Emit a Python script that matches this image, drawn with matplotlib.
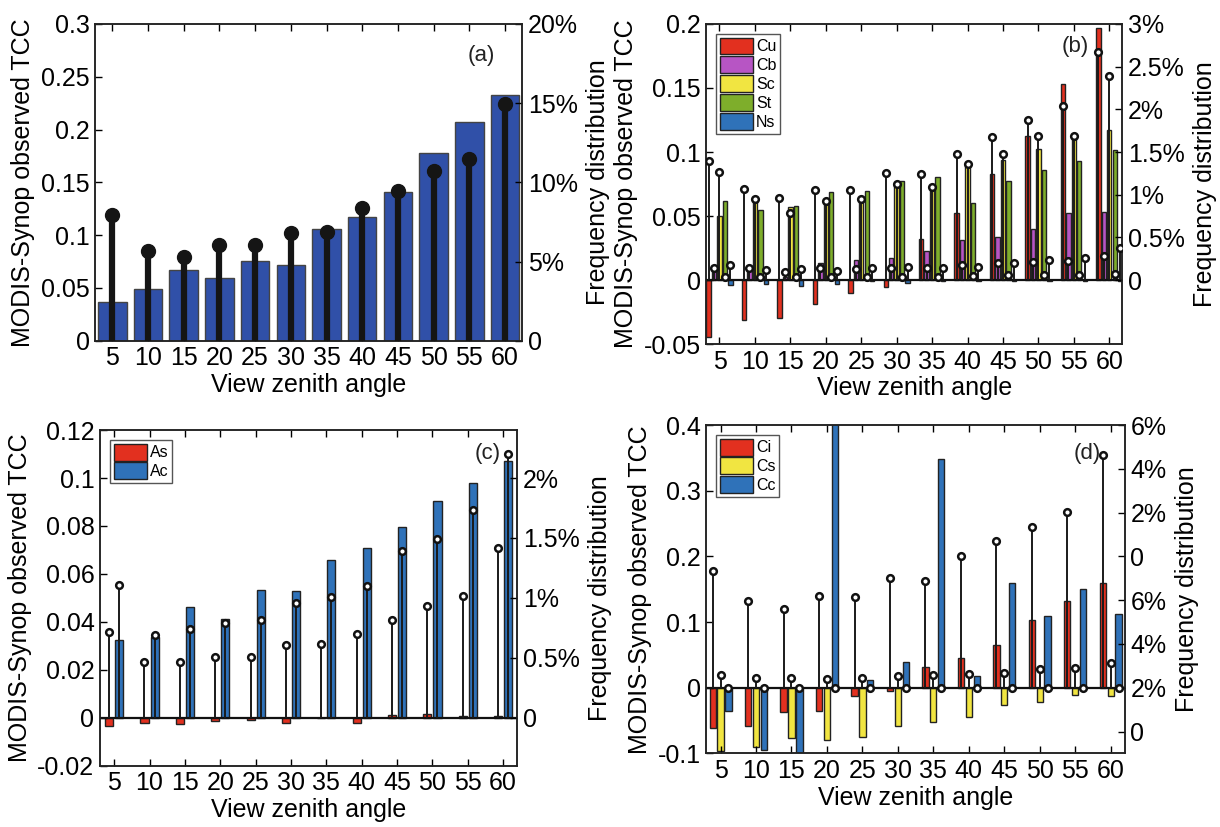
import matplotlib
matplotlib.use("Agg")
import matplotlib.pyplot as plt
import numpy as np

plt.rcParams['font.family'] = ['Liberation Sans', 'DejaVu Sans']

angles = ['5', '10', '15', '20', '25', '30', '35', '40', '45', '50', '55', '60']

# ---- panel (a): all clouds ----
a_tcc = [0.037, 0.049, 0.0666, 0.059, 0.0756, 0.072, 0.106, 0.117, 0.141, 0.1775, 0.207, 0.233]
a_freq = [7.93, 5.68, 5.26, 6.05, 6.05, 6.83, 6.89, 8.41, 9.46, 10.73, 11.48, 14.95]

# ---- panel (b): low clouds ----
b_names = ['Cu', 'Cb', 'Sc', 'St', 'Ns']
b_tcc_Cu = [-0.0446, -0.031, -0.0296, -0.0189, -0.0102, -0.0055, 0.0323, 0.0525, 0.0826, 0.1128, 0.1534, 0.197]
b_tcc_Cb = [0.011, 0.0105, 0.0026, 0.0136, 0.0157, 0.017, 0.023, 0.0315, 0.0333, 0.0399, 0.0525, 0.0532]
b_tcc_Sc = [0.0498, 0.063, 0.057, 0.0608, 0.0645, 0.0753, 0.0721, 0.0892, 0.0936, 0.1023, 0.1125, 0.117]
b_tcc_St = [0.0616, 0.0548, 0.0582, 0.0684, 0.0692, 0.0771, 0.0805, 0.0603, 0.0771, 0.086, 0.0926, 0.1015]
b_tcc_Ns = [-0.004, -0.003, -0.005, -0.003, -0.001, -0.0026, -0.0005, -0.001, -0.0005, -0.001, -0.001, -0.0005]
b_freq_Cu = [1.40, 1.07, 0.965, 1.055, 1.055, 1.25, 1.24, 1.48, 1.68, 1.88, 2.04, 2.67]
b_freq_Cb = [0.146, 0.146, 0.098, 0.138, 0.126, 0.138, 0.138, 0.177, 0.197, 0.209, 0.224, 0.276]
b_freq_Sc = [1.26, 0.953, 0.78, 0.925, 0.945, 1.12, 1.09, 1.36, 1.48, 1.69, 1.69, 2.39]
b_freq_St = [0.04, 0.04, 0.03, 0.03, 0.03, 0.03, 0.04, 0.047, 0.06, 0.06, 0.06, 0.07]
b_freq_Ns = [0.177, 0.118, 0.126, 0.11, 0.138, 0.154, 0.146, 0.157, 0.2, 0.232, 0.256, 0.374]

# ---- panel (c): middle clouds ----
c_names = ['As', 'Ac']
c_tcc_As = [-0.0034, -0.002, -0.0025, -0.0012, -0.0011, -0.0022, 0.0, -0.002, 0.0011, 0.0017, 0.0008, 0.0008]
c_tcc_Ac = [0.0324, 0.0337, 0.0462, 0.0414, 0.0531, 0.0528, 0.0658, 0.071, 0.0796, 0.0905, 0.0979, 0.1072]
c_freq_As = [0.717, 0.466, 0.466, 0.505, 0.505, 0.607, 0.615, 0.703, 0.814, 0.932, 1.015, 1.415]
c_freq_Ac = [1.11, 0.69, 0.74, 0.794, 0.814, 0.96, 1.007, 1.098, 1.393, 1.49, 1.73, 2.2]

# ---- panel (d): high clouds ----
d_names = ['Ci', 'Cs', 'Cc']
d_tcc_Ci = [-0.0619, -0.0589, -0.0376, -0.0355, -0.0132, -0.005, 0.031, 0.0447, 0.0655, 0.103, 0.1315, 0.1594]
d_tcc_Cs = [-0.097, -0.0898, -0.0772, -0.0792, -0.0751, -0.0584, -0.0528, -0.0442, -0.0264, -0.0213, -0.0112, -0.0122]
d_tcc_Cc = [-0.0355, -0.095, -0.1, 0.45, 0.0117, 0.0396, 0.349, 0.0173, 0.159, 0.1086, 0.150, 0.1127]
d_freq_Ci = [5.35, 3.96, 3.59, 4.20, 4.16, 5.03, 4.87, 6.0, 6.69, 7.33, 8.04, 10.64]
d_freq_Cs = [0.58, 0.44, 0.44, 0.41, 0.44, 0.52, 0.59, 0.64, 0.67, 0.87, 0.88, 1.11]
d_freq_Cc = [0.0, 0.0, 0.0, 0.0, 0.0, 0.0, 0.0, 0.0, 0.0, 0.0, 0.0, 0.0]

# tick label lists
a_yticks = [0, 0.05, 0.1, 0.15, 0.2, 0.25, 0.3]
a_ylabels = ['0', '0.05', '0.1', '0.15', '0.2', '0.25', '0.3']
a_rticks = [0, 5, 10, 15, 20]
a_rlabels = ['0', '5%', '10%', '15%', '20%']
b_yticks = [-0.05, 0, 0.05, 0.1, 0.15, 0.2]
b_ylabels = ['-0.05', '0', '0.05', '0.1', '0.15', '0.2']
b_rticks = [0, 0.5, 1, 1.5, 2, 2.5, 3]
b_rlabels = ['0', '0.5%', '1%', '1.5%', '2%', '2.5%', '3%']
c_yticks = [-0.02, 0, 0.02, 0.04, 0.06, 0.08, 0.1, 0.12]
c_ylabels = ['-0.02', '0', '0.02', '0.04', '0.06', '0.08', '0.1', '0.12']
c_rticks = [0, 0.5, 1, 1.5, 2]
c_rlabels = ['0', '0.5%', '1%', '1.5%', '2%']
d_yticks = [-0.1, 0, 0.1, 0.2, 0.3, 0.4]
d_ylabels = ['-0.1', '0', '0.1', '0.2', '0.3', '0.4']
d_rticks = [-2, 0, 2, 4, 6, 8, 10, 12]
d_rlabels = ['0', '2%', '4%', '6%', '0', '2%', '4%', '6%']

C_RED = '#E2301F'
C_MAG = '#B755C4'
C_YEL = '#F1E541'
C_GRN = '#7EAE2B'
C_BLU = '#2F72B9'
C_NAVY = '#3050A8'

FS = 18
fig = plt.figure(figsize=(12.2, 8.27), dpi=100)

def style(ax, ax2, yt, yl, rt, rl, ylim, rlim, xlim, lab, labpos):
    x = np.arange(1, len(angles) + 1)
    ax.set_xlim(*xlim)
    ax.set_ylim(*ylim)
    ax2.set_ylim(*rlim)
    ax.set_xticks(x)
    ax.set_xticklabels(angles, fontsize=FS)
    ax.set_yticks(yt)
    ax.set_yticklabels(yl, fontsize=FS)
    ax2.set_yticks(rt)
    ax2.set_yticklabels(rl, fontsize=FS)
    ax.tick_params(axis='both', direction='in', length=5, width=1, top=True, pad=4)
    ax2.tick_params(axis='y', direction='in', length=5, width=1, pad=4)
    ax.set_xlabel('View zenith angle', fontsize=FS, labelpad=2)
    ax.set_ylabel('MODIS-Synop observed TCC', fontsize=FS, labelpad=4)
    ax2.set_ylabel('Frequency distribution', fontsize=FS, labelpad=6)
    for a in (ax, ax2):
        for s in a.spines.values():
            s.set_linewidth(1.1)
            s.set_color('#222222')
    ax2.text(labpos[0], labpos[1], lab, transform=ax2.transAxes, fontsize=16,
             ha='center', va='center', color='#222222')

def stems(ax2, xs, vals):
    ax2.vlines(xs, 0, vals, color='#1a1a1a', lw=1.4, zorder=3)
    ax2.plot(xs, vals, 'o', ms=4.8, mfc='white', mec='#111111', mew=1.8, zorder=4)

x = np.arange(1, len(angles) + 1)

# panel (a)
ax = fig.add_axes([0.078, 0.588, 0.350, 0.383])
ax2 = ax.twinx()
ax.bar(x, a_tcc, width=0.8, color=C_NAVY, edgecolor='#444444', lw=1)
ax2.vlines(x, 0, a_freq, color='#151515', lw=4.5, zorder=3)
ax2.plot(x, a_freq, 'o', ms=10, color='#151515', zorder=4)
style(ax, ax2, a_yticks, a_ylabels, a_rticks, a_rlabels, (0, 0.3), (0, 20),
      (0.52, 12.48), '(a)', (0.905, 0.90))

# grouped bars helper
def grouped(ax, ax2, tccs, freqs, colors, names):
    n = len(tccs)
    gw = min(0.8, n / (n + 1.5))
    sp = gw / n
    bw = sp * 0.8
    handles = []
    for i in range(n):
        off = (i - (n - 1) / 2) * sp
        h = ax.bar(x + off, tccs[i], width=bw, color=colors[i], edgecolor='#222222', lw=1, label=names[i])
        handles.append(h)
        stems(ax2, x + off, freqs[i])
    ax.axhline(0, color='#111111', lw=1.6, zorder=5)
    leg = ax.legend(handles=handles, loc='upper left', fontsize=11.5, handlelength=2.1, handleheight=1.25,
                    handletextpad=0.15, labelspacing=0.12, borderpad=0.25, borderaxespad=0.6,
                    fancybox=False, framealpha=1, edgecolor='#555555')
    leg.get_frame().set_linewidth(1.0)
    leg.set_zorder(10)
    return leg

# panel (b)
ax = fig.add_axes([0.579, 0.584, 0.341, 0.387])
ax2 = ax.twinx()
leg = grouped(ax, ax2, [b_tcc_Cu, b_tcc_Cb, b_tcc_Sc, b_tcc_St, b_tcc_Ns],
              [b_freq_Cu, b_freq_Cb, b_freq_Sc, b_freq_St, b_freq_Ns],
              [C_RED, C_MAG, C_YEL, C_GRN, C_BLU], b_names)
style(ax, ax2, b_yticks, b_ylabels, b_rticks, b_rlabels, (-0.05, 0.2), (-0.75, 3),
      (0.63, 12.37), '(b)', (0.887, 0.93))

# panel (c)
ax = fig.add_axes([0.082, 0.074, 0.342, 0.406])
ax2 = ax.twinx()
grouped(ax, ax2, [c_tcc_As, c_tcc_Ac], [c_freq_As, c_freq_Ac], [C_RED, C_BLU], c_names)
style(ax, ax2, c_yticks, c_ylabels, c_rticks, c_rlabels, (-0.02, 0.12), (-0.4, 2.4),
      (0.6, 12.4), '(c)', (0.93, 0.93))

# panel (d)
ax = fig.add_axes([0.579, 0.089, 0.343, 0.397])
ax2 = ax.twinx()
grouped(ax, ax2, [d_tcc_Ci, d_tcc_Cs, d_tcc_Cc], [d_freq_Ci, d_freq_Cs, d_freq_Cc],
        [C_RED, C_YEL, C_BLU], d_names)
style(ax, ax2, d_yticks, d_ylabels, d_rticks, d_rlabels, (-0.1, 0.4), (-3, 12),
      (0.6, 12.4), '(d)', (0.91, 0.914))

fig.savefig('out.png', dpi=100)
